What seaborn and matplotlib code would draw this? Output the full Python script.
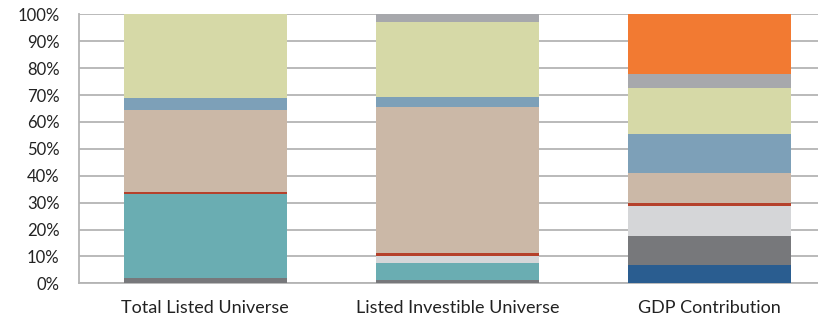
import matplotlib
matplotlib.use("Agg")
import matplotlib.pyplot as plt
import seaborn as sns
from matplotlib.ticker import MultipleLocator, FuncFormatter

sns.set_theme(style="white")
plt.rcParams['font.family'] = ['Lato', 'DejaVu Sans']

categories = ["Total Listed Universe", "Listed Investible Universe", "GDP Contribution"]

# segment shares in %, bottom to top
dark_blue = [0.0, 0.0, 6.8]
dark_grey = [2.1, 1.2, 10.8]
teal = [31.2, 6.4, 0.0]
light_grey = [0.0, 2.6, 11.1]
red = [0.7, 1.1, 1.2]
tan = [30.4, 54.3, 11.1]
steel_blue = [4.5, 3.7, 14.5]
olive_green = [31.1, 27.9, 17.1]
mid_grey = [0.0, 2.8, 5.2]
orange = [0.0, 0.0, 22.2]

series = [
    (dark_blue, '#2A5D90'),
    (dark_grey, '#77787B'),
    (teal, '#6AADB2'),
    (light_grey, '#D5D6D8'),
    (red, '#B5412B'),
    (tan, '#CBB8A7'),
    (steel_blue, '#7DA0B8'),
    (olive_green, '#D6D9A7'),
    (mid_grey, '#A7A8AC'),
    (orange, '#F27A32'),
]

fig = plt.figure(figsize=(8.18, 3.17), dpi=100)
ax = fig.add_axes([79 / 818, 0.106, 1 - 79 / 818, 0.849])

bottoms = [0.0, 0.0, 0.0]
for vals, col in series:
    sns.barplot(x=categories, y=vals, bottom=bottoms, color=col, width=0.646,
                errorbar=None, saturation=1, linewidth=0, ax=ax, zorder=3)
    bottoms = [b + v for b, v in zip(bottoms, vals)]

ax.set_ylim(0, 100)
ax.set_xlim(-0.5, 2.43)
ax.yaxis.set_major_locator(MultipleLocator(10))
ax.yaxis.set_major_formatter(FuncFormatter(lambda v, _: f"{v:.0f}%"))
ax.grid(axis='y', color='#B4B4B4', linewidth=1.3, zorder=0)
ax.grid(axis='x', visible=False)
for s in ['top', 'right']:
    ax.spines[s].set_visible(False)
for s in ['left', 'bottom']:
    ax.spines[s].set_color('#B4B4B4')
    ax.spines[s].set_linewidth(1.3)
ax.tick_params(axis='both', length=0, colors='#222222')
ax.tick_params(axis='x', pad=12, labelsize=13)
ax.tick_params(axis='y', pad=14, labelsize=12)
ax.set_xlabel("")
ax.set_ylabel("")

fig.savefig("out.png", dpi=100)
